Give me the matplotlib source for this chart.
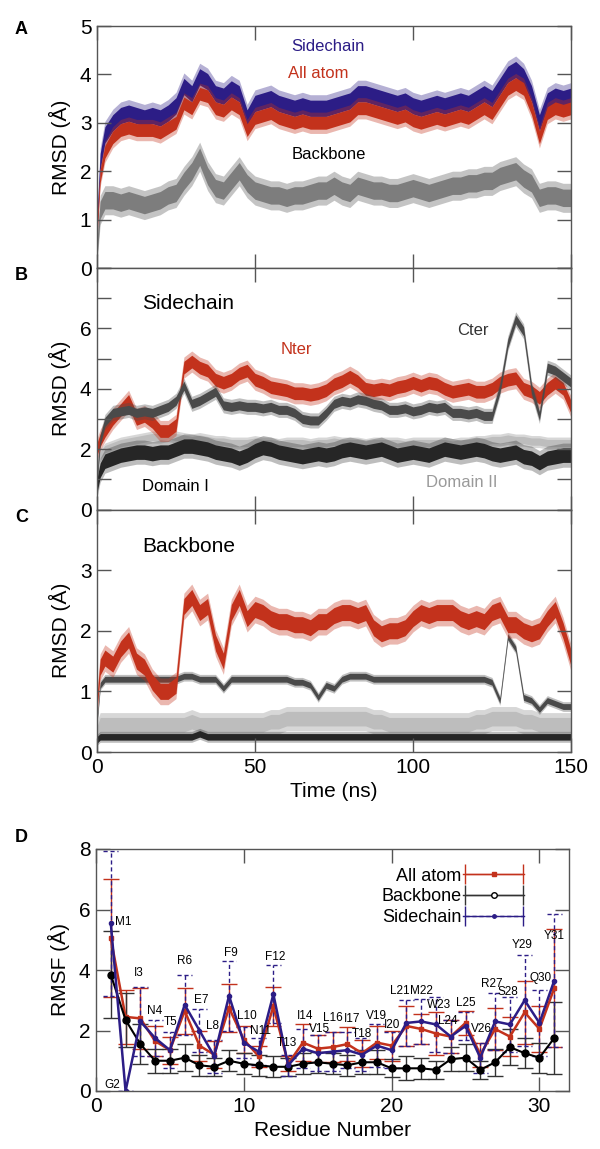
import numpy as np
import matplotlib
matplotlib.use("Agg")
import matplotlib.pyplot as plt
from matplotlib.container import ErrorbarContainer
from matplotlib.legend_handler import HandlerErrorbar

plt.rcParams["font.family"] = ["Liberation Sans", "DejaVu Sans"]

# ---------------- time series ----------------
time_ns = [0, 1, 2.5, 5, 7.5, 10, 12.5, 15, 17.5, 20, 22.5, 25, 27.5, 30, 32.5, 35,
           37.5, 40, 42.5, 45, 47.5, 50, 52.5, 55, 57.5, 60, 62.5, 65, 67.5, 70,
           72.5, 75, 77.5, 80, 82.5, 85, 87.5, 90, 92.5, 95, 97.5, 100, 102.5, 105,
           107.5, 110, 112.5, 115, 117.5, 120, 122.5, 125, 127.5, 130, 132.5, 135,
           137.5, 140, 142.5, 145, 147.5, 150]

# panel A
a_sidechain = [0.9, 2.2, 2.75, 3.0, 3.15, 3.2, 3.15, 3.1, 3.15, 3.1, 3.2, 3.35, 3.75, 3.6,
               3.95, 3.85, 3.6, 3.55, 3.7, 3.6, 3.1, 3.4, 3.45, 3.5, 3.4, 3.35, 3.3, 3.35,
               3.3, 3.3, 3.3, 3.35, 3.4, 3.45, 3.6, 3.6, 3.55, 3.5, 3.45, 3.4, 3.45, 3.35,
               3.3, 3.35, 3.4, 3.35, 3.4, 3.45, 3.4, 3.5, 3.6, 3.5, 3.75, 4.0, 4.1, 3.95,
               3.6, 3.0, 3.45, 3.55, 3.5, 3.55]
a_allatom = [0.8, 1.9, 2.4, 2.7, 2.85, 2.9, 2.85, 2.85, 2.85, 2.8, 2.9, 3.0, 3.4, 3.3,
             3.6, 3.55, 3.3, 3.25, 3.4, 3.3, 2.85, 3.1, 3.15, 3.2, 3.1, 3.05, 3.0, 3.05,
             3.0, 3.0, 3.0, 3.05, 3.1, 3.15, 3.3, 3.3, 3.25, 3.2, 3.15, 3.1, 3.15, 3.05,
             3.0, 3.05, 3.1, 3.05, 3.1, 3.15, 3.1, 3.2, 3.3, 3.2, 3.45, 3.7, 3.8, 3.7,
             3.3, 2.7, 3.2, 3.3, 3.25, 3.3]
a_backbone = [0.4, 1.2, 1.4, 1.4, 1.35, 1.4, 1.35, 1.3, 1.35, 1.4, 1.5, 1.55, 1.8, 2.0,
              2.3, 1.9, 1.65, 1.6, 1.8, 2.0, 1.75, 1.6, 1.55, 1.5, 1.5, 1.45, 1.5, 1.5,
              1.55, 1.6, 1.6, 1.7, 1.6, 1.55, 1.7, 1.65, 1.6, 1.6, 1.55, 1.55, 1.6, 1.65,
              1.6, 1.55, 1.6, 1.65, 1.7, 1.7, 1.75, 1.75, 1.8, 1.8, 1.9, 1.95, 2.0, 1.85,
              1.75, 1.45, 1.5, 1.5, 1.45, 1.45]

# panel B (sidechain)
b_nter = [2.0, 2.3, 2.6, 3.0, 3.3, 3.6, 3.0, 3.1, 2.9, 2.6, 2.6, 2.8, 4.7, 4.9, 4.7, 4.6,
          4.3, 4.2, 4.3, 4.5, 4.6, 4.3, 4.2, 4.05, 4.0, 3.95, 3.85, 3.85, 3.8, 3.85,
          3.95, 4.15, 4.25, 4.4, 4.25, 4.0, 3.95, 4.0, 3.95, 4.05, 4.1, 4.2, 4.1, 4.2,
          4.15, 4.0, 3.9, 3.95, 4.0, 3.9, 3.9, 4.0, 4.2, 4.3, 4.35, 4.0, 3.9, 3.7, 4.0,
          4.2, 4.0, 3.4]
b_cter = [1.0, 2.3, 2.9, 3.2, 3.25, 3.3, 3.2, 3.25, 3.2, 3.3, 3.4, 3.6, 4.1, 3.5, 3.6,
          3.75, 3.9, 3.45, 3.4, 3.45, 3.4, 3.4, 3.35, 3.4, 3.3, 3.3, 3.2, 3.0, 2.95,
          2.95, 3.2, 3.5, 3.6, 3.55, 3.65, 3.6, 3.5, 3.45, 3.3, 3.3, 3.35, 3.25, 3.3,
          3.4, 3.35, 3.4, 3.2, 3.2, 3.15, 3.2, 3.1, 3.1, 4.0, 5.5, 6.3, 5.9, 4.0, 3.1,
          4.7, 4.6, 4.4, 4.2]
b_domain1 = [0.8, 1.3, 1.6, 1.7, 1.8, 1.85, 1.9, 1.9, 1.85, 1.9, 1.9, 2.0, 2.1, 2.1,
             2.05, 2.0, 1.9, 1.85, 1.8, 1.7, 1.8, 1.95, 2.05, 2.0, 1.9, 1.85, 1.8, 1.75,
             1.8, 1.85, 1.8, 1.85, 1.95, 2.0, 1.95, 1.9, 1.95, 2.0, 1.9, 1.8, 1.85, 1.9,
             1.85, 1.8, 1.9, 2.0, 1.95, 1.9, 1.95, 2.0, 1.95, 1.85, 1.8, 1.85, 1.9, 1.75,
             1.7, 1.55, 1.7, 1.75, 1.8, 1.8]
b_domain2 = [1.6, 1.8, 2.0, 2.1, 2.2, 2.25, 2.3, 2.35, 2.4, 2.4, 2.45, 2.4, 2.35, 2.3,
             2.35, 2.3, 2.25, 2.25, 2.2, 2.2, 2.2, 2.25, 2.2, 2.2, 2.15, 2.2, 2.2, 2.2,
             2.15, 2.2, 2.2, 2.25, 2.2, 2.2, 2.2, 2.15, 2.2, 2.2, 2.2, 2.2, 2.15, 2.2,
             2.2, 2.2, 2.2, 2.2, 2.15, 2.2, 2.2, 2.25, 2.25, 2.3, 2.3, 2.35, 2.3, 2.3,
             2.25, 2.25, 2.2, 2.2, 2.2, 2.2]

# panel C (backbone)
c_nter = [0.8, 1.4, 1.55, 1.45, 1.7, 1.85, 1.5, 1.4, 1.15, 1.0, 1.0, 1.1, 2.4, 2.55,
          2.3, 2.4, 1.8, 1.5, 2.3, 2.55, 2.2, 2.35, 2.3, 2.2, 2.15, 2.15, 2.1, 2.1,
          2.05, 2.15, 2.15, 2.25, 2.3, 2.3, 2.25, 2.3, 2.05, 1.95, 2.0, 2.0, 2.05, 2.2,
          2.3, 2.25, 2.3, 2.3, 2.3, 2.2, 2.15, 2.2, 2.15, 2.3, 2.35, 2.1, 2.1, 2.0,
          1.95, 2.0, 2.2, 2.35, 2.0, 1.55]
c_cter = [0.5, 1.1, 1.2, 1.2, 1.2, 1.2, 1.2, 1.2, 1.2, 1.2, 1.2, 1.2, 1.25, 1.25, 1.2,
          1.2, 1.2, 1.05, 1.2, 1.2, 1.2, 1.2, 1.2, 1.2, 1.2, 1.2, 1.15, 1.15, 1.1, 0.9,
          1.1, 1.05, 1.2, 1.25, 1.25, 1.25, 1.2, 1.2, 1.2, 1.2, 1.2, 1.2, 1.2, 1.2,
          1.2, 1.2, 1.2, 1.2, 1.2, 1.2, 1.2, 1.15, 0.85, 1.9, 1.7, 0.9, 0.85, 0.7,
          0.85, 0.8, 0.75, 0.75]
c_domain2 = [0.3, 0.45, 0.45, 0.45, 0.45, 0.45, 0.45, 0.45, 0.45, 0.45, 0.45, 0.45,
             0.45, 0.5, 0.45, 0.45, 0.45, 0.45, 0.45, 0.45, 0.45, 0.45, 0.45, 0.5, 0.5,
             0.55, 0.55, 0.55, 0.55, 0.55, 0.55, 0.55, 0.55, 0.55, 0.55, 0.55, 0.5, 0.5,
             0.45, 0.45, 0.45, 0.45, 0.45, 0.45, 0.45, 0.45, 0.45, 0.45, 0.45, 0.5, 0.5,
             0.55, 0.55, 0.55, 0.55, 0.5, 0.5, 0.45, 0.45, 0.45, 0.45, 0.45]
c_domain1 = [0.2, 0.25, 0.25, 0.25, 0.25, 0.25, 0.25, 0.25, 0.25, 0.25, 0.25, 0.25,
             0.25, 0.25, 0.3, 0.25, 0.25, 0.25, 0.25, 0.25, 0.25, 0.25, 0.25, 0.25,
             0.25, 0.25, 0.25, 0.25, 0.25, 0.25, 0.25, 0.25, 0.25, 0.25, 0.25, 0.25,
             0.25, 0.25, 0.25, 0.25, 0.25, 0.25, 0.25, 0.25, 0.25, 0.25, 0.25, 0.25,
             0.25, 0.25, 0.25, 0.25, 0.25, 0.25, 0.25, 0.25, 0.25, 0.25, 0.25, 0.25,
             0.25, 0.25]

# fluctuation half-widths of each trace
noise_a = {"side": 0.28, "all": 0.22, "bb": 0.3}
noise_b = {"nter": 0.35, "cter": 0.25, "d1": 0.4, "d2": 0.2}
noise_c = {"nter": 0.22, "cter": 0.08, "d2": 0.2, "d1": 0.09}

# ---------------- RMSF per residue ----------------
residues = list(range(1, 32))
res_names = ["M1", "G2", "I3", "N4", "T5", "R6", "E7", "L8", "F9", "L10", "N11",
             "F12", "T13", "I14", "V15", "L16", "I17", "T18", "V19", "I20", "L21",
             "M22", "W23", "L24", "L25", "V26", "R27", "S28", "Y29", "Q30", "Y31"]
rmsf_all = [5.05, 2.45, 2.4, 1.65, 1.35, 2.65, 1.5, 1.2, 2.75, 1.7, 1.15, 2.8, 0.9,
            1.6, 1.4, 1.45, 1.55, 1.25, 1.6, 1.5, 2.15, 2.05, 1.9, 1.8, 2.25, 1.2,
            2.05, 1.8, 2.6, 2.05, 3.4]
rmsf_all_err = [1.95, 0.9, 1.0, 0.5, 0.45, 0.75, 0.5, 0.45, 0.8, 0.45, 0.35, 0.65,
                0.25, 0.6, 0.45, 0.5, 0.55, 0.45, 0.55, 0.5, 0.65, 0.5, 0.7, 0.55,
                0.4, 0.4, 0.7, 0.65, 1.05, 0.75, 1.95]
rmsf_bb = [3.85, 2.35, 1.55, 1.0, 1.0, 1.1, 0.85, 0.8, 1.0, 0.9, 0.85, 0.8, 0.8, 0.9,
           0.95, 0.9, 0.85, 0.95, 0.95, 0.75, 0.75, 0.75, 0.7, 1.05, 1.1, 0.7, 0.95,
           1.45, 1.25, 1.1, 1.75]
rmsf_bb_err = [1.45, 0.9, 0.65, 0.4, 0.4, 0.45, 0.35, 0.3, 0.35, 0.35, 0.35, 0.35,
               0.3, 0.35, 0.35, 0.35, 0.35, 0.4, 0.4, 0.3, 0.4, 0.35, 0.3, 0.4, 0.45,
               0.3, 0.45, 0.6, 0.5, 0.5, 1.2]
rmsf_side = [5.55, 0.0, 2.3, 1.75, 1.35, 2.85, 2.0, 1.15, 3.15, 1.6, 1.3, 3.2, 0.85,
             1.4, 1.25, 1.3, 1.35, 1.2, 1.5, 1.35, 2.25, 2.3, 2.2, 1.8, 2.15, 1.1,
             2.3, 2.2, 3.0, 2.25, 3.65]
rmsf_side_err = [2.4, 0.0, 1.15, 0.6, 0.6, 1.0, 0.7, 0.55, 1.15, 0.5, 0.45, 0.95,
                 0.35, 0.65, 0.6, 0.65, 0.6, 0.55, 0.7, 0.6, 0.75, 0.75, 0.9, 0.55,
                 0.45, 0.5, 0.95, 0.9, 1.5, 1.1, 2.2]

# where each residue name is written (layout)
label_x = [1.85, 1.1, 2.9, 4.0, 5.05, 6.0, 7.1, 7.9, 9.1, 10.2, 11.1, 12.1, 12.9,
           14.15, 15.1, 16.0, 17.3, 18.0, 18.95, 20.05, 20.55, 22.0, 23.2, 23.8, 25.0,
           26.05, 26.75, 27.85, 28.85, 30.1, 31.0]
label_y = [5.6, 0.2, 3.9, 2.63, 2.27, 4.3, 3.0, 2.15, 4.57, 2.49, 1.97, 4.44, 1.59,
           2.49, 2.05, 2.41, 2.38, 1.9, 2.47, 2.19, 3.32, 3.32, 2.85, 2.32, 2.9, 2.05,
           3.53, 3.27, 4.84, 3.73, 5.12]

NAVY = "#2c1d86"
RED = "#c3321c"
GRAY = "#7d7d7d"
DARK = "#4a4a4a"
BLACK = "#262626"
LIGHT = "#bdbdbd"
SPINE = "#555555"
DASH = (0, (3, 2))

fig = plt.figure(figsize=(6, 11.49), dpi=100)
left, width = 97 / 600, 474 / 600
H = 1149
axA = fig.add_axes([left, 1 - 268 / H, width, 242 / H])
axB = fig.add_axes([left, 1 - 509.5 / H, width, 241.5 / H])
axC = fig.add_axes([left, 1 - 752 / H, width, 242.5 / H])
axD = fig.add_axes([96 / 600, 1 - 1091 / H, 473 / 600, 242 / H])

t = np.array(time_ns)


def trace(ax, vals, half, color, alpha_out=0.35):
    v = np.array(vals)
    ax.fill_between(t, v - half, v + half, color=color, alpha=alpha_out, lw=0)
    ax.fill_between(t, v - half * 0.6, v + half * 0.6, color=color, lw=0)


def style(ax, ymax, labelled):
    ax.set_xlim(0, 150)
    ax.set_ylim(0, ymax)
    ax.set_xticks([0, 50, 100, 150])
    ax.set_yticks(range(0, ymax + 1))
    ax.set_yticklabels([str(i) if i in labelled else "" for i in range(0, ymax + 1)])
    ax.tick_params(direction="in", length=10, width=1, color=SPINE, top=True,
                   right=True, labelsize=15, pad=4)
    for s in ax.spines.values():
        s.set_color(SPINE)
        s.set_linewidth(1)
    ax.set_ylabel("RMSD (Å)", fontsize=15, labelpad=6)


# A
trace(axA, a_backbone, noise_a["bb"], GRAY, 0.45)
trace(axA, a_sidechain, noise_a["side"], NAVY)
trace(axA, a_allatom, noise_a["all"], RED)
style(axA, 5, [0, 1, 2, 3, 4, 5])
axA.tick_params(labelbottom=False)
axA.text(73, 4.57, "Sidechain", color=NAVY, fontsize=12, ha="center", va="center")
axA.text(70, 4.02, "All atom", color=RED, fontsize=12, ha="center", va="center")
axA.text(73.5, 2.34, "Backbone", color="black", fontsize=12, ha="center", va="center")

# B
trace(axB, b_domain2, noise_b["d2"], LIGHT, 0.6)
trace(axB, b_domain1, noise_b["d1"], BLACK, 0.3)
trace(axB, b_nter, noise_b["nter"], RED)
trace(axB, b_cter, noise_b["cter"], DARK)
style(axB, 8, [0, 2, 4, 6])
axB.tick_params(labelbottom=False)
axB.text(14.2, 6.84, "Sidechain", fontsize=15, ha="left", va="center")
axB.text(63.2, 5.29, "Nter", color=RED, fontsize=12, ha="center", va="center")
axB.text(119, 5.92, "Cter", color="#333333", fontsize=12, ha="center", va="center")
axB.text(14.2, 0.75, "Domain I", fontsize=12, ha="left", va="center")
axB.text(104, 0.88, "Domain II", color="#9a9a9a", fontsize=12, ha="left", va="center")

# C
trace(axC, c_domain2, noise_c["d2"], LIGHT, 0.6)
trace(axC, c_domain1, noise_c["d1"], BLACK, 0.3)
trace(axC, c_cter, noise_c["cter"], DARK)
trace(axC, c_nter, noise_c["nter"], RED)
style(axC, 4, [0, 1, 2, 3])
axC.text(14.2, 3.39, "Backbone", fontsize=15, ha="left", va="center")
axC.set_xlabel("Time (ns)", fontsize=15, labelpad=4)

# D
x = np.array(residues)
cap_half = 0.5
axD.errorbar(x, rmsf_all, yerr=rmsf_all_err, color=RED, lw=1.8, marker="s",
             ms=3, elinewidth=1, capsize=6, capthick=1)
axD.errorbar(x, rmsf_bb, yerr=rmsf_bb_err, color="black", lw=1.5, marker="o",
             ms=5, mfc="black", elinewidth=1, ecolor="#333333", capsize=6, capthick=1)
side = np.array(rmsf_side)
side_err = np.array(rmsf_side_err)
e_side = axD.errorbar(x, side, yerr=side_err, color=NAVY, lw=1.8, marker="o", ms=3,
                      elinewidth=1, capsize=0)
e_side[2][0].set_linestyle(DASH)
axD.hlines(side + side_err, x - cap_half, x + cap_half, color=NAVY, lw=1, linestyles=DASH)
axD.hlines(side - side_err, x - cap_half, x + cap_half, color=NAVY, lw=1, linestyles=DASH)
for name, lx, ly in zip(res_names, label_x, label_y):
    axD.text(lx, ly, name, fontsize=8.5, ha="center", va="center")

# legend proxies: horizontal error bars like the original key
p_all = axD.errorbar([np.nan], [np.nan], xerr=[1], color=RED, lw=1, marker="s", ms=3,
                     capsize=7, capthick=1, label="All atom")
p_bb = axD.errorbar([np.nan], [np.nan], xerr=[1], color="#333333", lw=1, marker="o",
                    ms=4, mfc="white", mec="black", capsize=7, capthick=1,
                    label="Backbone")
p_side = axD.errorbar([np.nan], [np.nan], xerr=[1], color=NAVY, lw=1, marker="o",
                      ms=2.5, capsize=7, capthick=1, label="Sidechain")
p_side[2][0].set_linestyle(DASH)

axD.set_xlim(0, 32)
axD.set_ylim(0, 8)
axD.set_xticks([0, 10, 20, 30])
axD.set_yticks([0, 2, 4, 6, 8])
axD.tick_params(direction="in", length=10, width=1, color=SPINE, top=True,
                right=True, labelsize=15, pad=4)
for s in axD.spines.values():
    s.set_color(SPINE)
    s.set_linewidth(1)
axD.set_ylabel("RMSF (Å)", fontsize=15, labelpad=6)
axD.set_xlabel("Residue Number", fontsize=15, labelpad=4)
axD.legend(handles=[p_all, p_bb, p_side], loc="upper right",
           bbox_to_anchor=(0.94, 0.99), frameon=False, markerfirst=False,
           fontsize=13, handlelength=3.4, labelspacing=0.2, handletextpad=0.1,
           handler_map={ErrorbarContainer: HandlerErrorbar(xerr_size=1.6)})

for letter, yy in [("A", 30), ("B", 275), ("C", 517), ("D", 838)]:
    fig.text(15 / 600, 1 - yy / H, letter, fontsize=13, fontweight="bold",
             ha="left", va="center")

fig.savefig("out.png", dpi=100)
